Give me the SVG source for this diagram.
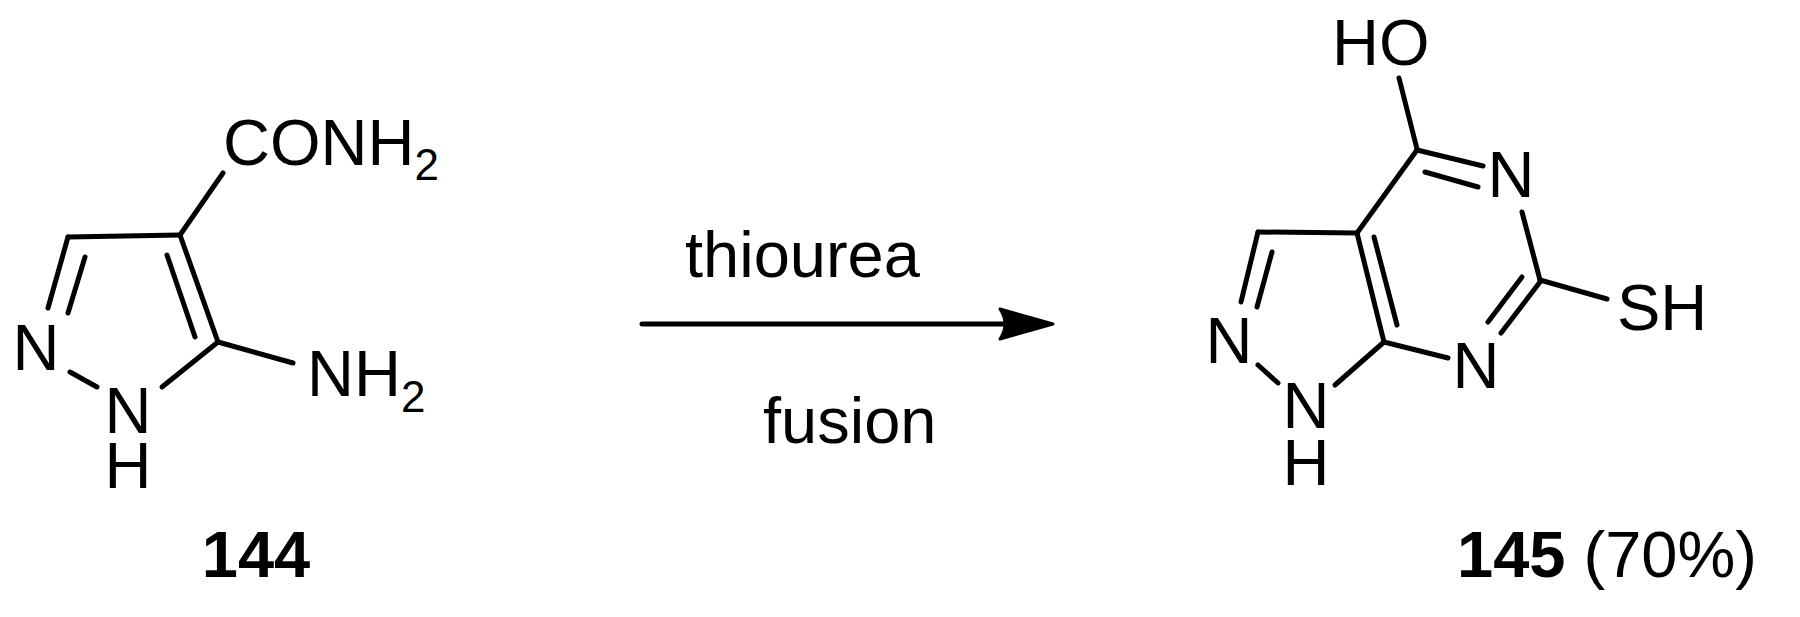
<svg xmlns="http://www.w3.org/2000/svg" width="1800" height="617" viewBox="0 0 1800 617">
<style>
line{stroke:#000;stroke-width:5;stroke-linecap:round}
text{font-family:"Liberation Sans",Arial,sans-serif;font-size:65px;fill:#000}
.m{text-anchor:middle}
.s{font-size:44px}
.b{font-weight:bold}
</style>
<rect width="1800" height="617" fill="#fff"/>
<g id="c144">
<line x1="180" y1="235" x2="68" y2="237"/>
<line x1="68" y1="237" x2="48" y2="308"/>
<line x1="85" y1="257" x2="68" y2="313"/>
<line x1="70" y1="372" x2="97" y2="387"/>
<line x1="162" y1="387" x2="218" y2="342"/>
<line x1="180" y1="235" x2="218" y2="342"/>
<line x1="167" y1="255" x2="195" y2="337"/>
<line x1="218" y1="342" x2="293" y2="363"/>
<line x1="180" y1="235" x2="223" y2="173"/>
<text x="36" y="370" class="m">N</text>
<text x="128" y="433" class="m">N</text>
<text x="128" y="488" class="m">H</text>
<text x="307" y="396">NH<tspan class="s" dy="16">2</tspan></text>
<text x="223" y="165">CONH<tspan class="s" dy="15">2</tspan></text>
<text x="256" y="577" class="m b">144</text>
</g>
<g id="c145">
<line x1="1399" y1="78" x2="1417" y2="149"/>
<line x1="1417" y1="150" x2="1483" y2="166"/>
<line x1="1425" y1="172" x2="1478" y2="187"/>
<line x1="1522" y1="212" x2="1540" y2="280"/>
<line x1="1540" y1="280" x2="1607" y2="299"/>
<line x1="1540" y1="282" x2="1501" y2="333"/>
<line x1="1522" y1="277" x2="1488" y2="322"/>
<line x1="1448" y1="358" x2="1384" y2="342"/>
<line x1="1357" y1="233" x2="1384" y2="342"/>
<line x1="1374" y1="237" x2="1397" y2="325"/>
<line x1="1357" y1="233" x2="1417" y2="150"/>
<line x1="1357" y1="233" x2="1258" y2="232"/>
<line x1="1258" y1="232" x2="1241" y2="302"/>
<line x1="1272" y1="252" x2="1257" y2="307"/>
<line x1="1258" y1="365" x2="1278" y2="383"/>
<line x1="1335" y1="385" x2="1384" y2="342"/>
<text x="1332" y="65">HO</text>
<text x="1511" y="197" class="m">N</text>
<text x="1617" y="330">SH</text>
<text x="1476" y="388" class="m">N</text>
<text x="1229" y="363" class="m">N</text>
<text x="1306" y="428" class="m">N</text>
<text x="1306" y="485" class="m">H</text>
<text x="1457" y="577"><tspan class="b">145</tspan> (70%)</text>
</g>
<g id="connectors">
<line x1="642" y1="324" x2="1005" y2="324"/>
<path d="M1053,324 L1000,309 Q1010,324 1000,339 Z" fill="#000" stroke="#000" stroke-width="3" stroke-linejoin="round"/>
<text x="685" y="277">thiourea</text>
<text x="763" y="443">fusion</text>
</g>
</svg>
